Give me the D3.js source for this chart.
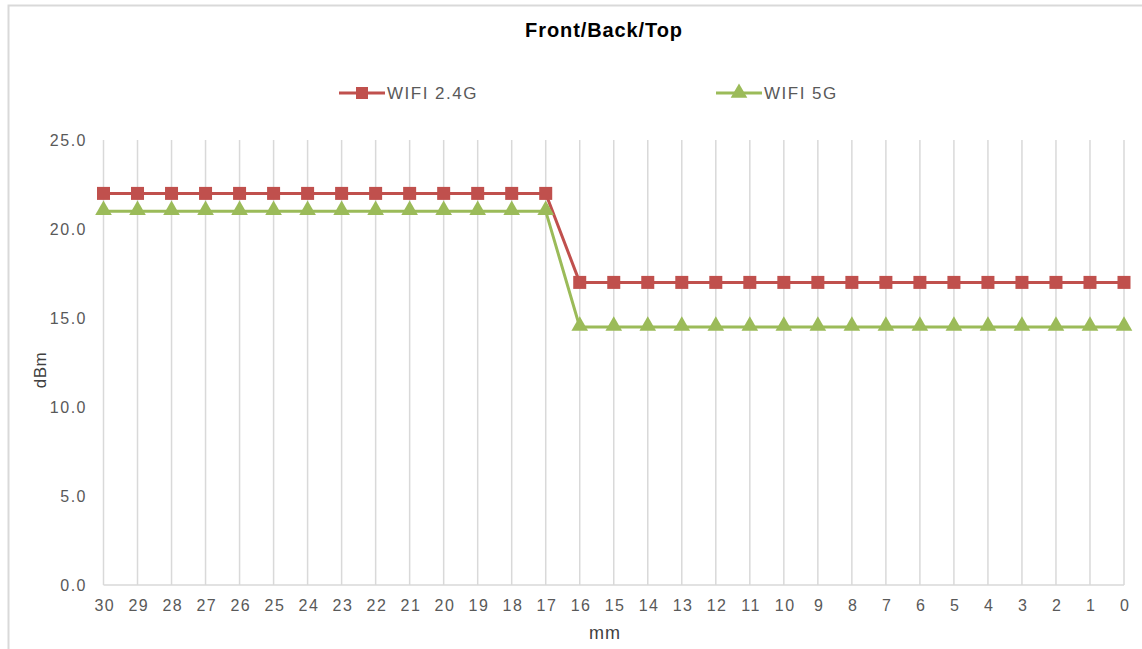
<!DOCTYPE html>
<html>
<head>
<meta charset="utf-8">
<title>Front/Back/Top</title>
<script src="https://d3js.org/d3.v7.min.js"></script>
<style>
  body { margin: 0; background: #fff; }
  svg { display: block; font-family: "Liberation Sans", Arial, sans-serif; }
</style>
</head>
<body>
<svg id="chart" width="1142" height="649"></svg>
<script>
// data
var distances = [30,29,28,27,26,25,24,23,22,21,20,19,18,17,16,15,14,13,12,11,10,9,8,7,6,5,4,3,2,1,0];
var wifi24 = [22,22,22,22,22,22,22,22,22,22,22,22,22,22,17,17,17,17,17,17,17,17,17,17,17,17,17,17,17,17,17];
var wifi5 = [21,21,21,21,21,21,21,21,21,21,21,21,21,21,14.5,14.5,14.5,14.5,14.5,14.5,14.5,14.5,14.5,14.5,14.5,14.5,14.5,14.5,14.5,14.5,14.5];
var yTicks = [0,5,10,15,20,25];
var seriesNames = ["WIFI 2.4G", "WIFI 5G"];

var svg = d3.select("#chart");
var grey = "#595959";

// outer frame (only top/left fall inside the picture)
svg.append("rect").attr("x", 8.5).attr("y", 5.5).attr("width", 1200).attr("height", 700)
  .attr("fill", "none").attr("stroke", "#d9d9d9").attr("stroke-width", 2);

var x = d3.scalePoint().domain(distances).range([103.5, 1124]);
var y = d3.scaleLinear().domain([0, 25]).range([585, 140]);

// vertical grid lines, one per category
svg.append("g").selectAll("line").data(distances).join("line")
  .attr("x1", d => x(d)).attr("x2", d => x(d))
  .attr("y1", y(25)).attr("y2", y(0))
  .attr("stroke", "#d9d9d9").attr("stroke-width", 1.5);

// x axis
var xAxis = svg.append("g").attr("transform", "translate(0," + y(0) + ")")
  .call(d3.axisBottom(x).tickSize(0).tickPadding(15));
xAxis.select(".domain").attr("stroke", "#d9d9d9").attr("stroke-width", 1.5)
  .attr("d", "M" + (x(30)) + ",0H" + x(0));
xAxis.selectAll("text").attr("fill", grey).attr("dx", "0.05em")
  .style("font-size", "16px").style("letter-spacing", "1.5px")
  .style("font-family", "Liberation Sans, Arial, sans-serif");

// y axis
var yAxis = svg.append("g").attr("transform", "translate(87,0)")
  .call(d3.axisLeft(y).tickValues(yTicks).tickFormat(d3.format(".1f")).tickSize(0).tickPadding(0));
yAxis.select(".domain").remove();
yAxis.selectAll("text").attr("fill", grey)
  .style("font-size", "16px").style("letter-spacing", "1.5px")
  .style("font-family", "Liberation Sans, Arial, sans-serif");

// axis titles
svg.append("text").attr("x", 605).attr("y", 639).attr("text-anchor", "middle")
  .attr("fill", "#404040").style("font-size", "18px").style("letter-spacing", "1px").text("mm");
svg.append("text").attr("transform", "translate(46,370) rotate(-90)").attr("text-anchor", "middle")
  .attr("fill", "#404040").style("font-size", "17px").style("letter-spacing", "0.5px").text("dBm");

// title
svg.append("text").attr("x", 604).attr("y", 37).attr("text-anchor", "middle")
  .attr("fill", "#000").style("font-size", "20px").style("font-weight", "bold")
  .style("letter-spacing", "0.9px").text("Front/Back/Top");

var red = "#c0504d", green = "#9bbb59";
var line = d3.line().x((d, i) => x(distances[i])).y(d => y(d));
var tri = d3.symbol().type(d3.symbolTriangle).size(120);

// WIFI 2.4G
svg.append("path").datum(wifi24).attr("d", line)
  .attr("fill", "none").attr("stroke", red).attr("stroke-width", 3);
svg.append("g").selectAll("rect").data(wifi24).join("rect")
  .attr("x", (d, i) => x(distances[i]) - 6.5).attr("y", d => y(d) - 6.5)
  .attr("width", 13).attr("height", 13).attr("fill", red);

// WIFI 5G
svg.append("path").datum(wifi5).attr("d", line)
  .attr("fill", "none").attr("stroke", green).attr("stroke-width", 3);
svg.append("g").selectAll("path").data(wifi5).join("path")
  .attr("d", tri)
  .attr("transform", (d, i) => "translate(" + x(distances[i]) + "," + (y(d) - 1) + ")")
  .attr("fill", green);

// legend
var legend = [
  {name: seriesNames[0], color: red, x0: 339, shape: "square"},
  {name: seriesNames[1], color: green, x0: 716, shape: "triangle"}
];
legend.forEach(function (l) {
  var g = svg.append("g").attr("transform", "translate(" + l.x0 + ",93)");
  g.append("line").attr("x1", 0).attr("x2", 46).attr("stroke", l.color).attr("stroke-width", 3);
  if (l.shape == "square") {
    g.append("rect").attr("x", 17).attr("y", -6).attr("width", 12).attr("height", 12).attr("fill", l.color);
  } else {
    g.append("path").attr("d", tri).attr("transform", "translate(23,0)").attr("fill", l.color);
  }
  g.append("text").attr("x", 48).attr("y", 6).attr("fill", grey)
    .style("font-size", "17px").style("letter-spacing", "1.5px").text(l.name);
});
</script>
</body>
</html>
